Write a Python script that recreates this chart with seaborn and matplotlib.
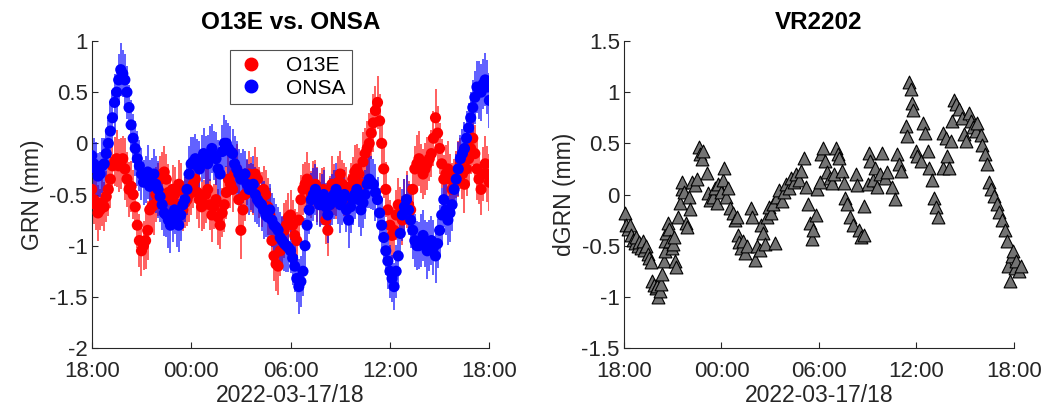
import numpy as np
import pandas as pd
import matplotlib
matplotlib.use("Agg")
import matplotlib.pyplot as plt
import matplotlib.dates as mdates
from matplotlib.lines import Line2D
import seaborn as sns

# ---------------- data ----------------
start = pd.Timestamp("2022-03-17 18:00")
end = pd.Timestamp("2022-03-18 18:00")

# hours since start: on the quarter hour, and half-way between (left panel)
grn_hours = [i * 0.25 for i in range(97)]
grn_hours_mid = [i * 0.25 + 0.125 for i in range(96)]

o13e_grn = [
    -0.45, -0.60, -0.65, -0.62,
    -0.45, -0.22, -0.15, -0.20,
    -0.25, -0.45, -0.50, -0.80,
    -1.05, -0.95, -0.65, -0.60,
    -0.45, -0.30, -0.35, -0.55,
    -0.50, -0.40, -0.65, -0.55,
    -0.45, -0.35, -0.55, -0.60,
    -0.45, -0.70, -0.55, -0.80,
    -0.60, -0.35, -0.45, -0.25,
    -0.85, -0.50, -0.30, -0.45,
    -0.35, -0.55, -0.50, -0.70,
    -1.10, -1.20, -0.95, -0.80,
    -0.70, -0.90, -0.75, -0.45,
    -0.35, -0.50, -0.40, -0.55,
    -0.45, -0.85, -0.40, -0.50,
    -0.30, -0.45, -0.55, -0.35,
    -0.25, -0.40, -0.10, 0.00,
    0.20, 0.40, 0.00, -0.45,
    -0.80, -0.85, -0.60, -0.75,
    -0.55, -0.65, -0.25, -0.15,
    -0.30, -0.20, -0.10, 0.25,
    -0.05, -0.35, -0.25, -0.45,
    -0.30, -0.20, -0.40, -0.15,
    0.05, -0.25, -0.45, -0.20,
    -0.38,
]
o13e_grn_mid = [
    -0.55, -0.68, -0.58, -0.52,
    -0.35, -0.18, -0.22, -0.15,
    -0.35, -0.42, -0.62, -0.95,
    -1.00, -0.85, -0.62, -0.50,
    -0.35, -0.28, -0.48, -0.45,
    -0.60, -0.45, -0.58, -0.50,
    -0.40, -0.48, -0.62, -0.50,
    -0.60, -0.62, -0.72, -0.68,
    -0.48, -0.40, -0.30, -0.55,
    -0.65, -0.38, -0.40, -0.30,
    -0.48, -0.45, -0.62, -0.95,
    -1.18, -1.05, -0.85, -0.72,
    -0.80, -0.95, -0.55, -0.40,
    -0.45, -0.42, -0.50, -0.48,
    -0.75, -0.60, -0.45, -0.38,
    -0.40, -0.50, -0.42, -0.28,
    -0.30, -0.18, -0.05, 0.10,
    0.32, 0.22, -0.25, -0.65,
    -0.90, -0.70, -0.68, -0.62,
    -0.60, -0.45, -0.20, -0.25,
    -0.25, -0.15, 0.05, 0.10,
    -0.20, -0.30, -0.35, -0.38,
    -0.25, -0.30, -0.25, -0.05,
    -0.10, -0.35, -0.30, -0.30,
]
onsa_grn = [
    -0.12, -0.25, -0.30, -0.20,
    0.00, 0.25, 0.50, 0.72,
    0.62, 0.35, 0.05, -0.15,
    -0.30, -0.35, -0.42, -0.30,
    -0.45, -0.60, -0.70, -0.80,
    -0.65, -0.80, -0.60, -0.45,
    -0.20, -0.15, -0.25, -0.10,
    -0.20, -0.05, -0.15, -0.30,
    0.00, -0.05, -0.10, -0.25,
    -0.35, -0.30, -0.45, -0.40,
    -0.55, -0.60, -0.70, -0.65,
    -0.80, -0.85, -0.95, -1.00,
    -1.05, -1.20, -1.40, -1.25,
    -0.80, -0.55, -0.45, -0.60,
    -0.50, -0.70, -0.55, -0.45,
    -0.60, -0.50, -0.75, -0.55,
    -0.45, -0.65, -0.50, -0.35,
    -0.40, -0.55, -0.80, -1.05,
    -1.25, -1.40, -1.10, -0.70,
    -0.55, -0.75, -0.95, -1.00,
    -0.90, -1.05, -0.95, -1.10,
    -0.85, -0.55, -0.75, -0.60,
    -0.35, -0.15, -0.05, 0.15,
    0.35, 0.55, 0.50, 0.62,
    0.42,
]
onsa_grn_mid = [
    -0.20, -0.32, -0.22, -0.10,
    0.12, 0.40, 0.62, 0.68,
    0.50, 0.18, -0.05, -0.22,
    -0.38, -0.28, -0.38, -0.40,
    -0.52, -0.68, -0.75, -0.72,
    -0.75, -0.70, -0.55, -0.30,
    -0.18, -0.22, -0.15, -0.18,
    -0.10, -0.12, -0.25, -0.08,
    0.00, -0.08, -0.20, -0.30,
    -0.32, -0.40, -0.42, -0.50,
    -0.58, -0.65, -0.72, -0.75,
    -0.82, -0.92, -0.98, -1.02,
    -1.12, -1.32, -1.35, -1.00,
    -0.65, -0.50, -0.52, -0.55,
    -0.62, -0.60, -0.50, -0.52,
    -0.55, -0.65, -0.62, -0.50,
    -0.55, -0.58, -0.40, -0.38,
    -0.48, -0.68, -0.92, -1.15,
    -1.32, -1.25, -0.88, -0.62,
    -0.65, -0.85, -1.00, -0.95,
    -0.98, -1.00, -1.02, -0.98,
    -0.70, -0.65, -0.68, -0.45,
    -0.25, -0.10, 0.05, 0.25,
    0.45, 0.52, 0.58, 0.55,
]
o13e_err = [
    0.22, 0.25, 0.20, 0.24, 0.26, 0.22, 0.28, 0.25, 0.30, 0.27, 0.24, 0.22,
    0.25, 0.28, 0.24, 0.30, 0.26, 0.22, 0.25, 0.23, 0.27, 0.24, 0.21, 0.26,
    0.25, 0.23, 0.28, 0.24, 0.22, 0.26, 0.25, 0.23, 0.27, 0.25, 0.22, 0.24,
    0.28, 0.26, 0.23, 0.25, 0.22, 0.27, 0.24, 0.26, 0.25, 0.28, 0.23, 0.25,
    0.24, 0.26, 0.22, 0.25, 0.27, 0.23, 0.24, 0.26, 0.22, 0.25, 0.28, 0.24,
    0.23, 0.26, 0.25, 0.22, 0.24, 0.27, 0.25, 0.30, 0.28, 0.26, 0.24, 0.27,
    0.25, 0.23, 0.26, 0.24, 0.28, 0.25, 0.22, 0.27, 0.24, 0.26, 0.23, 0.28,
    0.25, 0.24, 0.27, 0.26, 0.23, 0.25, 0.28, 0.24, 0.26, 0.30, 0.25, 0.27,
    0.28,
]
o13e_err_mid = [
    0.24, 0.27, 0.23, 0.25, 0.28, 0.24, 0.26, 0.22, 0.27, 0.25, 0.23, 0.26,
    0.24, 0.29, 0.25, 0.27, 0.23, 0.25, 0.28, 0.24, 0.22, 0.26, 0.25, 0.27,
    0.23, 0.26, 0.24, 0.28, 0.25, 0.22, 0.27, 0.24, 0.26, 0.23, 0.25, 0.28,
    0.24, 0.22, 0.27, 0.26, 0.25, 0.23, 0.28, 0.24, 0.26, 0.25, 0.27, 0.23,
    0.25, 0.28, 0.24, 0.22, 0.26, 0.25, 0.27, 0.24, 0.23, 0.28, 0.25, 0.26,
    0.24, 0.27, 0.23, 0.26, 0.25, 0.29, 0.27, 0.25, 0.24, 0.26, 0.28, 0.23,
    0.26, 0.24, 0.25, 0.27, 0.23, 0.26, 0.28, 0.24, 0.25, 0.22, 0.27, 0.26,
    0.24, 0.28, 0.25, 0.23, 0.27, 0.24, 0.26, 0.25, 0.28, 0.24, 0.26, 0.27,
]
onsa_err = [
    0.24, 0.26, 0.22, 0.25, 0.23, 0.27, 0.24, 0.26, 0.25, 0.22, 0.24, 0.27,
    0.25, 0.23, 0.26, 0.24, 0.28, 0.25, 0.22, 0.27, 0.24, 0.26, 0.23, 0.25,
    0.26, 0.24, 0.27, 0.25, 0.28, 0.24, 0.26, 0.23, 0.28, 0.25, 0.24, 0.27,
    0.26, 0.23, 0.25, 0.28, 0.24, 0.26, 0.22, 0.25, 0.27, 0.23, 0.24, 0.26,
    0.22, 0.25, 0.27, 0.24, 0.23, 0.26, 0.25, 0.22, 0.24, 0.27, 0.25, 0.26,
    0.28, 0.24, 0.27, 0.25, 0.23, 0.26, 0.24, 0.28, 0.25, 0.22, 0.27, 0.24,
    0.26, 0.23, 0.28, 0.25, 0.24, 0.27, 0.26, 0.23, 0.25, 0.28, 0.24, 0.26,
    0.25, 0.27, 0.24, 0.26, 0.25, 0.23, 0.26, 0.24, 0.27, 0.25, 0.28, 0.26,
    0.27,
]
onsa_err_mid = [
    0.25, 0.23, 0.27, 0.24, 0.26, 0.28, 0.25, 0.23, 0.26, 0.24, 0.27, 0.25,
    0.22, 0.26, 0.24, 0.28, 0.25, 0.23, 0.27, 0.24, 0.26, 0.25, 0.22, 0.27,
    0.24, 0.26, 0.23, 0.25, 0.27, 0.24, 0.28, 0.26, 0.23, 0.25, 0.27, 0.24,
    0.26, 0.25, 0.23, 0.27, 0.24, 0.28, 0.25, 0.26, 0.23, 0.25, 0.27, 0.24,
    0.26, 0.23, 0.25, 0.27, 0.24, 0.26, 0.28, 0.25, 0.23, 0.26, 0.24, 0.27,
    0.25, 0.22, 0.26, 0.24, 0.27, 0.25, 0.23, 0.26, 0.28, 0.24, 0.25, 0.27,
    0.23, 0.26, 0.24, 0.27, 0.25, 0.28, 0.24, 0.26, 0.23, 0.25, 0.27, 0.24,
    0.26, 0.25, 0.28, 0.23, 0.26, 0.24, 0.27, 0.25, 0.26, 0.28, 0.24, 0.26,
]

# right panel: VR2202 (hours since start, dGRN)
vr_hours = [
    0.05, 0.15, 0.25, 0.35, 0.45, 0.55, 0.65, 0.75, 0.85, 0.95,
    1.05, 1.15, 1.25, 1.35, 1.45, 1.55, 1.65, 1.75, 1.85, 1.95,
    2.05, 2.10, 2.20, 2.30, 2.35, 2.45, 2.50, 2.55, 2.60, 2.70,
    2.75, 2.85, 2.95, 3.00, 3.10, 3.15, 3.20, 3.35, 3.45, 3.55,
    3.60, 3.70, 3.80, 3.90, 4.00, 4.05, 4.20, 4.35, 4.50, 4.60,
    4.70, 4.80, 4.85, 5.10, 5.20, 5.30, 5.45, 5.60, 5.70, 5.80,
    5.95, 6.10, 6.15, 6.30, 6.40, 6.55, 6.70, 6.85, 6.95, 7.00,
    7.10, 7.20, 7.35, 7.45, 7.55, 7.80, 7.85, 8.05, 8.20, 8.35,
    8.45, 8.55, 8.70, 8.80, 8.90, 9.05, 9.15, 9.30, 9.40, 9.55,
    9.70, 9.85, 10.00, 10.15, 10.30, 10.45, 10.60, 10.75, 10.90, 11.05,
    11.20, 11.30, 11.45, 11.55, 11.65, 11.80, 11.90, 12.05, 12.15, 12.25,
    12.35, 12.50, 12.65, 12.80, 12.95, 13.05, 13.15, 13.25, 13.40, 13.55,
    13.60, 13.75, 13.90, 14.10, 14.30, 14.35, 14.45, 14.60, 14.75, 14.80,
    15.00, 15.10, 15.15, 15.30, 15.45, 15.60, 15.75, 15.90, 16.05, 16.20,
    16.50, 16.65, 16.80, 16.90, 17.05, 17.35, 17.40, 17.55, 17.65, 17.70,
    17.80, 17.95, 18.05, 18.25, 18.40, 18.55, 18.70, 18.80, 18.95, 19.05,
    19.20, 19.35, 19.60, 19.65, 19.80, 19.90, 20.00, 20.10, 20.20, 20.30,
    20.45, 20.60, 20.80, 20.90, 21.05, 21.20, 21.35, 21.50, 21.65, 21.75,
    21.95, 22.05, 22.20, 22.35, 22.45, 22.60, 22.75, 22.95, 23.10, 23.25,
    23.45, 23.55, 23.65, 23.75, 23.85, 23.95, 24.05, 24.15, 24.30, 24.45,
]
vr_dgrn = [
    -0.18, -0.30, -0.34, -0.30, -0.40, -0.44, -0.47, -0.42, -0.50, -0.46,
    -0.52, -0.45, -0.54, -0.50, -0.58, -0.62, -0.66, -0.85, -0.88, -0.91,
    -0.89, -1.00, -0.94, -0.87, -0.78, -0.65, -0.55, -0.45, -0.38, -0.28,
    -0.34, -0.45, -0.52, -0.48, -0.42, -0.65, -0.71, -0.22, -0.08, 0.05,
    0.12, 0.02, -0.28, -0.32, -0.02, -0.14, 0.12, 0.09, 0.15, 0.46,
    0.40, 0.35, 0.43, 0.21, 0.01, -0.05, -0.02, 0.06, -0.08, 0.10,
    0.02, 0.14, 0.26, -0.02, 0.06, -0.13, -0.18, -0.25, -0.22, -0.40,
    -0.46, -0.52, -0.45, -0.57, -0.50, -0.13, -0.22, -0.64, -0.50, -0.54,
    -0.30, -0.38, -0.48, -0.22, -0.12, -0.18, -0.09, -0.47, -0.02, 0.04,
    -0.06, 0.02, 0.10, 0.06, 0.16, 0.12, 0.20, 0.14, 0.23, 0.36,
    0.07, -0.09, -0.28, -0.43, -0.35, -0.20, 0.05, 0.12, 0.40, 0.45,
    0.33, 0.22, 0.16, 0.11, 0.20, 0.45, 0.40, 0.36, 0.23, 0.11,
    -0.03, -0.09, -0.22, -0.30, 0.20, 0.09, -0.35, -0.42, -0.40, -0.11,
    0.10, 0.41, 0.33, 0.14, 0.26, 0.07, 0.20, 0.41, 0.16, 0.22,
    0.07, -0.04, 0.40, 0.30, 0.23, 0.67, 0.57, 1.10, 1.03, 0.89,
    0.83, 0.43, 0.38, 0.33, 0.70, 0.60, 0.43, 0.26, 0.14, -0.03,
    -0.12, -0.22, 0.26, 0.60, 0.55, 0.38, 0.26, 0.52, 0.72, 0.92,
    0.88, 0.84, 0.75, 0.59, 0.52, 0.80, 0.72, 0.66, 0.62, 0.70,
    0.58, 0.48, 0.40, 0.30, 0.12, 0.05, -0.01, -0.09, -0.17, -0.25,
    -0.35, -0.45, -0.70, -0.85, -0.60, -0.55, -0.72, -0.65, -0.75, -0.70,
]

left_yticks = [-2, -1.5, -1, -0.5, 0, 0.5, 1]
right_yticks = [-1.5, -1, -0.5, 0, 0.5, 1, 1.5]

# ---------------- frames ----------------
def to_time(h):
    return start + pd.to_timedelta(np.asarray(h, dtype=float), unit="h")

def site_frame(hours, vals, errs, site):
    return pd.DataFrame({"time": to_time(hours), "GRN": vals, "err": errs, "site": site})

df_grn = pd.concat([
    site_frame(grn_hours, o13e_grn, o13e_err, "O13E"),
    site_frame(grn_hours_mid, o13e_grn_mid, o13e_err_mid, "O13E"),
    site_frame(grn_hours, onsa_grn, onsa_err, "ONSA"),
    site_frame(grn_hours_mid, onsa_grn_mid, onsa_err_mid, "ONSA"),
], ignore_index=True).sort_values(["site", "time"])
df_vr = pd.DataFrame({"time": to_time(vr_hours), "dGRN": vr_dgrn})

# ---------------- style ----------------
sns.set_style("ticks", {"xtick.direction": "in", "ytick.direction": "in"})
plt.rcParams["font.family"] = ["Liberation Sans", "DejaVu Sans"]
tc = "#262626"
plt.rcParams.update({
    "axes.edgecolor": tc, "xtick.color": tc, "ytick.color": tc,
    "axes.labelcolor": tc, "text.color": "black",
    "xtick.major.size": 4, "ytick.major.size": 4,
    "axes.linewidth": 0.8,
})

fig = plt.figure(figsize=(10.51, 4.15), dpi=100)
axL = fig.add_axes([0.0873, 0.1614, 0.3783, 0.7398])
axR = fig.add_axes([0.5937, 0.1614, 0.3711, 0.7398])

palette = {"O13E": "#ff0000", "ONSA": "#0000ff"}

# error bars then markers, red first, blue on top
for site in ["O13E", "ONSA"]:
    d = df_grn[df_grn["site"] == site]
    axL.vlines(d["time"], d["GRN"] - d["err"], d["GRN"] + d["err"],
               color=palette[site], alpha=0.68, linewidth=1.3, zorder=2)
    sns.scatterplot(data=d, x="time", y="GRN", color=palette[site], s=64,
                    edgecolor="none", ax=axL, zorder=3, legend=False)

axL.set_xlim(start, end)
axL.set_ylim(-2, 1)
axL.set_yticks(left_yticks)
axL.set_yticklabels([f"{v:g}" for v in left_yticks])
axL.set_title("O13E vs. ONSA", fontsize=17.5, fontweight="bold", pad=9)
axL.set_ylabel("GRN (mm)", fontsize=16.5, labelpad=4)
axL.set_xlabel("2022-03-17/18", fontsize=16.5, labelpad=2)

handles = [Line2D([], [], marker="o", linestyle="none", color=palette[s], markersize=9)
           for s in ["O13E", "ONSA"]]
leg = axL.legend(handles, ["O13E", "ONSA"], loc="upper left",
                 bbox_to_anchor=(0.348, 0.970), fontsize=15, frameon=True,
                 fancybox=False, edgecolor="#262626", handlelength=1.4,
                 handletextpad=1.0, borderpad=0.3, labelspacing=0.15,
                 borderaxespad=0)
leg.get_frame().set_linewidth(0.8)
leg.set_zorder(5)

sns.scatterplot(data=df_vr, x="time", y="dGRN", marker="^", s=85,
                color="#737373", edgecolor="black", linewidth=0.8, ax=axR,
                clip_on=False, zorder=3)
axR.set_xlim(start, end)
axR.set_ylim(-1.5, 1.5)
axR.set_yticks(right_yticks)
axR.set_yticklabels([f"{v:g}" for v in right_yticks])
axR.set_title("VR2202", fontsize=17.5, fontweight="bold", pad=9)
axR.set_ylabel("dGRN (mm)", fontsize=16.5, labelpad=4)
axR.set_xlabel("2022-03-17/18", fontsize=16.5, labelpad=2)

for ax in (axL, axR):
    ax.xaxis.set_major_locator(mdates.HourLocator(byhour=[0, 6, 12, 18]))
    ax.xaxis.set_major_formatter(mdates.DateFormatter("%H:%M"))
    ax.tick_params(axis="both", labelsize=16)
    ax.tick_params(axis="x", pad=9)
    ax.tick_params(axis="y", pad=3)
    sns.despine(ax=ax)

fig.savefig("out.png", dpi=100)
